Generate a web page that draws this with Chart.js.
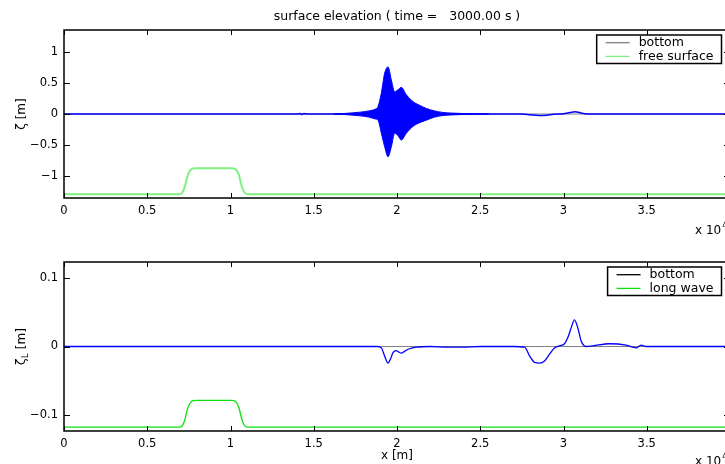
<!DOCTYPE html>
<html>
<head>
<meta charset="utf-8">
<script src="https://cdn.jsdelivr.net/npm/chart.js@4.4.0/dist/chart.umd.min.js"></script>
<style>
  html, body { margin: 0; padding: 0; background: #fff; overflow: hidden; }
  #wrap { position: relative; width: 725px; height: 464px; overflow: hidden; }
  #c1 { position: absolute; left: 0; top: 0; }
  #c2 { position: absolute; left: 0; top: 232px; }
</style>
</head>
<body>
<div id="wrap">
  <canvas id="c1" width="760" height="240"></canvas>
  <canvas id="c2" width="760" height="250"></canvas>
</div>
<script>
// x is in units of 10^4 m (axis shows "x 10^4")
const xTicks = [0, 0.5, 1, 1.5, 2, 2.5, 3, 3.5, 4];
const topYTicks = [-1, -0.5, 0, 0.5, 1];
const lowYTicks = [-0.1, 0, 0.1];

// "bottom" reference line
const bottomX = [0, 4];
const bottomY = [0, 0];

// green profile (same shape in both panels, different scale)
const bumpX = [0, 0.69, 0.71, 0.725, 0.74, 0.755, 0.775, 0.8, 1.0, 1.02, 1.035, 1.05, 1.065, 1.08, 1.1, 4];
const surfBumpY = [-1.295, -1.295, -1.27, -1.18, -1.02, -0.92, -0.878, -0.875, -0.875, -0.878, -0.9, -0.98, -1.14, -1.25, -1.295, -1.295];
const longBumpY = [-0.117, -0.117, -0.115, -0.107, -0.092, -0.083, -0.0785, -0.078, -0.078, -0.0785, -0.081, -0.088, -0.103, -0.113, -0.117, -0.117];

// top panel: free surface mean line
const surfX = [0, 1.40, 1.42, 1.43, 1.44, 1.46, 1.62, 2.55, 2.75, 2.80, 2.85, 2.90, 2.94, 3.00, 3.04, 3.07, 3.10, 3.14, 3.5, 4];
const surfY = [0, 0, 0.01, -0.01, 0.008, 0, 0, 0, 0, -0.012, -0.024, -0.02, -0.004, 0.004, 0.025, 0.038, 0.02, 0, 0, 0];

// top panel: envelope of the short-wave packet
const envX = [1.62, 1.68, 1.74, 1.78, 1.83, 1.87, 1.886, 1.906, 1.926, 1.946, 1.966, 1.986, 2.006, 2.026, 2.056, 2.096, 2.136, 2.176, 2.226, 2.276, 2.326, 2.376, 2.45, 2.55];
const envUp = [0.003, 0.008, 0.02, 0.03, 0.05, 0.08, 0.12, 0.34, 0.66, 0.76, 0.55, 0.36, 0.39, 0.43, 0.31, 0.2, 0.14, 0.09, 0.05, 0.025, 0.015, 0.01, 0.004, 0];
const envLo = [-0.003, -0.008, -0.02, -0.03, -0.05, -0.08, -0.10, -0.31, -0.53, -0.69, -0.53, -0.31, -0.35, -0.42, -0.31, -0.2, -0.14, -0.1, -0.05, -0.025, -0.015, -0.01, -0.004, 0];

// bottom panel: long wave
const longX = [0, 1.88, 1.906, 1.926, 1.946, 1.961, 1.976, 1.996, 2.011, 2.026, 2.046, 2.066, 2.116, 2.2, 2.3, 2.4, 2.5, 2.6, 2.7, 2.766, 2.796, 2.826, 2.856, 2.886, 2.916, 2.946, 2.976, 3.006, 3.026, 3.046, 3.066, 3.086, 3.106, 3.136, 3.176, 3.276, 3.376, 3.436, 3.466, 3.496, 4];
const longY = [0, 0, -0.002, -0.014, -0.024, -0.018, -0.009, -0.006, -0.008, -0.0097, -0.007, -0.004, -0.001, 0, -0.001, -0.0008, 0, 0, 0, -0.001, -0.0135, -0.023, -0.024, -0.021, -0.011, -0.002, 0.001, 0.004, 0.013, 0.027, 0.0387, 0.027, 0.008, 0, 0.001, 0.004, 0.002, -0.002, 0.002, 0, 0];

const FONT = '"DejaVu Sans", sans-serif';
const pts = (xs, ys) => xs.map((x, i) => ({ x: x, y: ys[i] }));
const fmt = v => (v < 0 ? '\u2212' : '') + Math.abs(v);

// box, inward ticks, title, labels and legend drawn matlab-style
const matlabAxes = {
  id: 'matlabAxes',
  afterDraw(chart, args, o) {
    const ctx = chart.ctx, a = chart.chartArea;
    const xs = chart.scales.x, ys = chart.scales.y;
    ctx.save();
    ctx.strokeStyle = '#000';
    ctx.lineWidth = 1;
    xs.ticks.forEach(t => {
      const px = Math.round(xs.getPixelForValue(t.value)) + 0.5;
      ctx.beginPath();
      ctx.moveTo(px, a.bottom); ctx.lineTo(px, a.bottom - 5);
      ctx.moveTo(px, a.top); ctx.lineTo(px, a.top + 5);
      ctx.stroke();
    });
    ys.ticks.forEach(t => {
      const py = Math.round(ys.getPixelForValue(t.value)) + 0.5;
      ctx.beginPath();
      ctx.moveTo(a.left, py); ctx.lineTo(a.left + 6, py);
      ctx.moveTo(a.right, py); ctx.lineTo(a.right - 6, py);
      ctx.stroke();
    });
    ctx.lineWidth = 1.5;
    ctx.strokeRect(a.left, a.top, a.right - a.left, a.bottom - a.top);

    ctx.fillStyle = '#000';
    ctx.textBaseline = 'middle';
    const cx = (a.left + a.right) / 2;
    if (o.title) {
      ctx.font = '12.5px ' + FONT;
      ctx.textAlign = 'center';
      ctx.fillText(o.title, cx, 17);
    }
    if (o.xlabel) {
      ctx.font = '12px ' + FONT;
      ctx.textAlign = 'center';
      ctx.fillText(o.xlabel, cx, a.bottom + 25);
    }

    // x 10^4 exponent
    ctx.textAlign = 'left';
    ctx.font = '12px ' + FONT;
    const ey = a.bottom + o.expDy;
    ctx.fillText('x 10', 695, ey);
    const ew = ctx.measureText('x 10').width;
    ctx.font = '8px ' + FONT;
    ctx.fillText('4', 695 + ew + 1, ey - 5);

    // y label, rotated
    ctx.save();
    ctx.translate(22, (a.top + a.bottom) / 2);
    ctx.rotate(-Math.PI / 2);
    ctx.font = '12px ' + FONT;
    const w1 = ctx.measureText('\u03b6').width;
    const w3 = ctx.measureText(' [m]').width;
    ctx.font = '8px ' + FONT;
    const w2 = o.ysub ? ctx.measureText(o.ysub).width + 1 : 0;
    let x0 = -(w1 + w2 + w3) / 2;
    ctx.textAlign = 'left';
    ctx.font = '12px ' + FONT;
    ctx.fillText('\u03b6', x0, 0);
    if (o.ysub) {
      ctx.font = '8px ' + FONT;
      ctx.fillText(o.ysub, x0 + w1 + 0.5, 4);
    }
    ctx.font = '12px ' + FONT;
    ctx.fillText(' [m]', x0 + w1 + w2, 0);
    ctx.restore();

    // legend
    ctx.font = '12.5px ' + FONT;
    const items = o.legend.map(i => chart.data.datasets[i]);
    const tw = Math.max(...items.map(d => ctx.measureText(d.label).width));
    const bw = 42 + tw + 8, bh = 28.5;
    const bx = a.right - 8.5 - bw, by = a.top + 5;
    ctx.fillStyle = '#fff';
    ctx.fillRect(bx, by, bw, bh);
    ctx.lineWidth = 1.5;
    ctx.strokeStyle = '#000';
    ctx.strokeRect(bx, by, bw, bh);
    items.forEach((d, k) => {
      const ry = by + 7.7 + k * 13.7;
      ctx.strokeStyle = d.legendColor || d.borderColor;
      ctx.lineWidth = 1.3;
      ctx.beginPath();
      ctx.moveTo(bx + 9, ry); ctx.lineTo(bx + 33, ry);
      ctx.stroke();
      ctx.fillStyle = '#000';
      ctx.fillText(d.label, bx + 42, ry + 0.5);
    });
    ctx.restore();
  }
};

function makeChart(id, datasets, yMin, yMax, yTicks, xh, opts) {
  const tickFont = { family: FONT, size: 11.5 };
  return new Chart(document.getElementById(id), {
    type: 'line',
    data: { datasets: datasets },
    options: {
      responsive: false,
      animation: false,
      events: [],
      layout: { padding: { top: 30, right: 30, left: 0, bottom: 0 } },
      elements: { point: { radius: 0 } },
      scales: {
        x: {
          type: 'linear', min: 0, max: 4,
          grid: { display: false, drawTicks: false },
          border: { display: false },
          afterBuildTicks: s => { s.ticks = xTicks.map(v => ({ value: v })); },
          afterFit: s => { s.height = xh; },
          ticks: { padding: 6, maxRotation: 0, autoSkip: false, color: '#000', font: tickFont, callback: v => fmt(v) }
        },
        y: {
          type: 'linear', min: yMin, max: yMax,
          grid: { display: false, drawTicks: false },
          border: { display: false },
          afterBuildTicks: s => { s.ticks = yTicks.map(v => ({ value: v })); },
          afterFit: s => { s.width = 64; },
          ticks: { padding: 6, autoSkip: false, color: '#000', font: tickFont, callback: v => fmt(v) }
        }
      },
      plugins: { legend: { display: false }, tooltip: { enabled: false }, matlabAxes: opts }
    },
    plugins: [matlabAxes]
  });
}

makeChart('c1', [
  { label: 'bottom', data: pts(bottomX, bottomY), borderColor: '#808080', borderWidth: 1, order: 3 },
  { label: 'free surface', data: pts(bumpX, surfBumpY), borderColor: '#80f080', borderWidth: 2, cubicInterpolationMode: 'monotone', order: 2 },
  { label: '', data: pts(surfX, surfY), borderColor: '#0000ff', borderWidth: 1.5, cubicInterpolationMode: 'monotone', order: 1 },
  { label: '', data: pts(envX, envUp), borderColor: '#0000ff', borderWidth: 1, cubicInterpolationMode: 'monotone', fill: false, order: 0 },
  { label: '', data: pts(envX, envLo), borderColor: '#0000ff', borderWidth: 1, cubicInterpolationMode: 'monotone', fill: '-1', backgroundColor: '#0000ff', order: 0 }
], -1.355, 1.355, topYTicks, 42, {
  title: 'surface elevation ( time =   3000.00 s )',
  legend: [0, 1],
  expDy: 33
});

makeChart('c2', [
  { label: 'bottom', data: pts(bottomX, bottomY), borderColor: '#808080', legendColor: '#000', borderWidth: 1, order: 3 },
  { label: 'long wave', data: pts(bumpX, longBumpY), borderColor: '#10e010', borderWidth: 1.3, cubicInterpolationMode: 'monotone', order: 2 },
  { label: '', data: pts(longX, longY), borderColor: '#0000ff', borderWidth: 1.3, cubicInterpolationMode: 'monotone', order: 1 }
], -0.1225, 0.1225, lowYTicks, 51, {
  ysub: 'L',
  xlabel: 'x [m]',
  legend: [0, 1],
  expDy: 31
});
</script>
</body>
</html>
